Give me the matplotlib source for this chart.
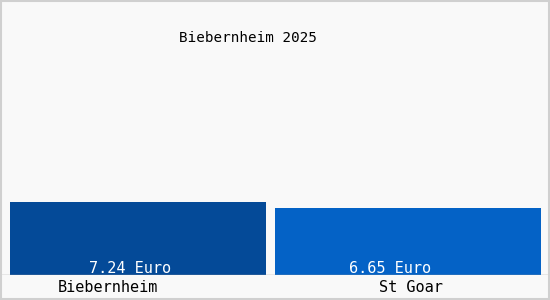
import matplotlib
matplotlib.use('Agg')
import matplotlib.pyplot as plt
from matplotlib.patches import Rectangle

# data
places = ['Biebernheim', 'St Goar']
prices = [7.24, 6.65]
value_labels = ['7.24 Euro', '6.65 Euro']
title = 'Biebernheim 2025'

# layout (pixel coords on a 550 wide canvas)
bar_left = [10, 275]
bar_width = [256, 266]
value_x = [130, 390]
label_x = [108, 411]
colors = ['#044a98', '#0462c6']
font = 'DejaVu Sans Mono'

fig = plt.figure(figsize=(5.5, 3), dpi=100)
fig.patch.set_facecolor('#f9f9f9')

ax = fig.add_axes([0, 25 / 300, 1, 275 / 300])
ax.set_facecolor('#f9f9f9')
ax.bar(bar_left, prices, width=bar_width, align='edge', color=colors)
ax.set_xlim(0, 550)
ax.set_ylim(0, 27.3)
ax.axis('off')

for x, t in zip(value_x, value_labels):
    ax.text(x, 0.2, t, ha='center', va='baseline', color='white',
            family=font, fontsize=11)

ax.axhline(0, color='#a0a0a0', lw=1)

for x, t in zip(label_x, places):
    fig.text(x / 550, 12 / 300, t, ha='center', va='center',
             family=font, fontsize=11)

fig.text(248 / 550, 1 - 38 / 300, title, ha='center', va='center',
         family=font, fontsize=10.3)

# outer border
fig.patches.append(Rectangle((0.001, 0.002), 0.997, 0.995, transform=fig.transFigure,
                             fill=False, edgecolor='#d0d0d0', lw=1.5))

fig.savefig('out.png', dpi=100, facecolor=fig.get_facecolor())
